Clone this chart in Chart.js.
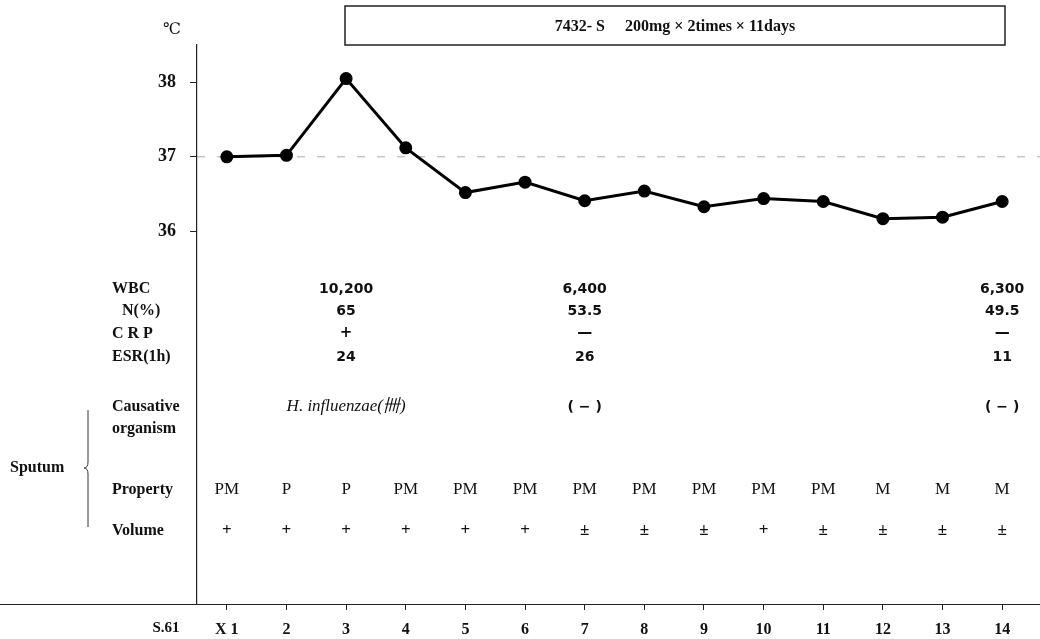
<!DOCTYPE html>
<html>
<head>
<meta charset="utf-8">
<script src="https://cdn.jsdelivr.net/npm/chart.js@4.4.1/dist/chart.umd.min.js"></script>
<style>
  html, body { margin: 0; padding: 0; background: #fff; }
  #wrap { width: 1040px; height: 639px; position: relative; }
</style>
</head>
<body>
<div id="wrap"><canvas id="chart" width="1040" height="639"></canvas></div>
<script>
// ===== DATA =====
const days = [1, 2, 3, 4, 5, 6, 7, 8, 9, 10, 11, 12, 13, 14];
const dayLabels = ['X 1', '2', '3', '4', '5', '6', '7', '8', '9', '10', '11', '12', '13', '14'];
const temperature = [37.0, 37.02, 38.05, 37.12, 36.52, 36.66, 36.41, 36.54, 36.33, 36.44, 36.4, 36.17, 36.19, 36.4];
const yTicks = [36, 37, 38];

const wbc = [null, null, '10,200', null, null, null, '6,400', null, null, null, null, null, null, '6,300'];
const neutro = [null, null, '65', null, null, null, '53.5', null, null, null, null, null, null, '49.5'];
const crp = [null, null, '+', null, null, null, '—', null, null, null, null, null, null, '—'];
const esr = [null, null, '24', null, null, null, '26', null, null, null, null, null, null, '11'];
const organism = [null, null, 'H. influenzae(卌)', null, null, null, '( − )', null, null, null, null, null, null, '( − )'];
const property = ['PM', 'P', 'P', 'PM', 'PM', 'PM', 'PM', 'PM', 'PM', 'PM', 'PM', 'M', 'M', 'M'];
const volume = ['+', '+', '+', '+', '+', '+', '±', '±', '±', '+', '±', '±', '±', '±'];

const drugLabel = '7432- S     200mg × 2times × 11days';

const SERIF = "'Liberation Serif', 'DejaVu Serif', serif";
const SANS = "'DejaVu Sans', 'Liberation Sans', sans-serif";
const INK = '#111';

/* ===== extra drawing: table, box, reference line ===== */
const annotations = {
    id: 'annotations',
    beforeDatasetsDraw(chart) {
        const { ctx, chartArea, scales } = chart;
        const y37 = scales.y.getPixelForValue(37);
        ctx.save();
        ctx.strokeStyle = '#aaa';
        ctx.lineWidth = 1;
        ctx.setLineDash([8, 12]);
        ctx.beginPath();
        ctx.moveTo(chartArea.left, y37);
        ctx.lineTo(1040, y37);
        ctx.stroke();
        ctx.restore();
    },
    afterDraw(chart) {
        const { ctx, chartArea, scales } = chart;
        const x = scales.x;
        ctx.save();

        // x-axis line across the whole width
        ctx.strokeStyle = '#222';
        ctx.lineWidth = 1.2;
        ctx.beginPath();
        ctx.moveTo(0, chartArea.bottom + 0.5);
        ctx.lineTo(1040, chartArea.bottom + 0.5);
        ctx.stroke();

        // drug box
        ctx.lineWidth = 1.5;
        ctx.strokeRect(345, 6, 660, 39);
        ctx.fillStyle = INK;
        ctx.font = 'bold 16px ' + SERIF;
        ctx.textAlign = 'center';
        ctx.textBaseline = 'middle';
        ctx.fillText(drugLabel, 675, 27);

        // unit
        ctx.font = '16px ' + SERIF;
        ctx.fillText('℃', 172, 30);

        // axis caption
        ctx.font = 'bold 15px ' + SERIF;
        ctx.fillText('S.61', 166, 628);

        // row labels
        ctx.textAlign = 'left';
        ctx.font = 'bold 16px ' + SERIF;
        ctx.fillText('WBC', 112, 289);
        ctx.fillText('N(%)', 122, 311);
        ctx.fillText('C R P', 112, 334);
        ctx.fillText('ESR(1h)', 112, 357);
        ctx.fillText('Causative', 112, 407);
        ctx.fillText('organism', 112, 429);
        ctx.fillText('Sputum', 10, 468);
        ctx.fillText('Property', 112, 490);
        ctx.fillText('Volume', 112, 531);

        // sputum brace
        ctx.strokeStyle = '#333';
        ctx.lineWidth = 1;
        ctx.beginPath();
        ctx.moveTo(88, 410);
        ctx.lineTo(88, 462);
        ctx.quadraticCurveTo(88, 468, 84, 468);
        ctx.quadraticCurveTo(88, 468, 88, 474);
        ctx.lineTo(88, 527);
        ctx.stroke();

        // table values through the x scale
        const rows = [
            [wbc, 289, 'bold 14px ' + SANS],
            [neutro, 311, 'bold 14px ' + SANS],
            [crp, 333, 'bold 15px ' + SANS],
            [esr, 357, 'bold 14px ' + SANS],
            [property, 490, '17px ' + SERIF],
            [volume, 531, 'bold 17px ' + SERIF]
        ];
        ctx.textAlign = 'center';
        rows.forEach(([values, yPos, font]) => {
            ctx.font = font;
            values.forEach((v, i) => {
                if (v) ctx.fillText(v, x.getPixelForValue(days[i]), yPos);
            });
        });

        organism.forEach((v, i) => {
            if (!v) return;
            const px = x.getPixelForValue(days[i]);
            if (v.startsWith('H.')) {
                ctx.font = 'italic 17px ' + SERIF;
                ctx.fillText(v, px, 407);
            } else {
                ctx.font = 'bold 14px ' + SANS;
                ctx.fillText(v, px, 407);
            }
        });

        ctx.restore();
    }
};

const ctx = document.getElementById('chart').getContext('2d');

new Chart(ctx, {
    type: 'line',
    data: {
        datasets: [{
            data: days.map((d, i) => ({ x: d, y: temperature[i] })),
            borderColor: '#000',
            backgroundColor: '#000',
            borderWidth: 3,
            pointRadius: 5,
            pointHoverRadius: 5,
            tension: 0
        }]
    },
    options: {
        responsive: false,
        animation: false,
        layout: { padding: { top: 45, right: 8, left: 0, bottom: 0 } },
        plugins: {
            legend: { display: false },
            tooltip: { enabled: false }
        },
        scales: {
            x: {
                type: 'linear',
                min: 0.5,
                max: 14.5,
                afterBuildTicks: scale => {
                    scale.ticks = days.map(v => ({ value: v }));
                },
                afterFit: scale => { scale.height = 35; },
                ticks: {
                    callback: (v) => dayLabels[days.indexOf(v)],
                    color: INK,
                    font: { family: SERIF, size: 16, weight: 'bold' },
                    padding: 10,
                    maxRotation: 0,
                    autoSkip: false
                },
                grid: { drawOnChartArea: false, tickLength: 6, color: '#222' },
                border: { display: false }
            },
            y: {
                type: 'linear',
                min: 31,
                max: 38.5,
                afterBuildTicks: scale => {
                    scale.ticks = yTicks.map(v => ({ value: v }));
                },
                afterFit: scale => { scale.width = 197; },
                ticks: {
                    color: INK,
                    font: { family: SERIF, size: 18, weight: 'bold' },
                    padding: 14
                },
                grid: { drawOnChartArea: false, tickLength: 7, color: '#222' },
                border: { display: true, color: '#222', width: 1.2 }
            }
        }
    },
    plugins: [annotations]
});
</script>
</body>
</html>
